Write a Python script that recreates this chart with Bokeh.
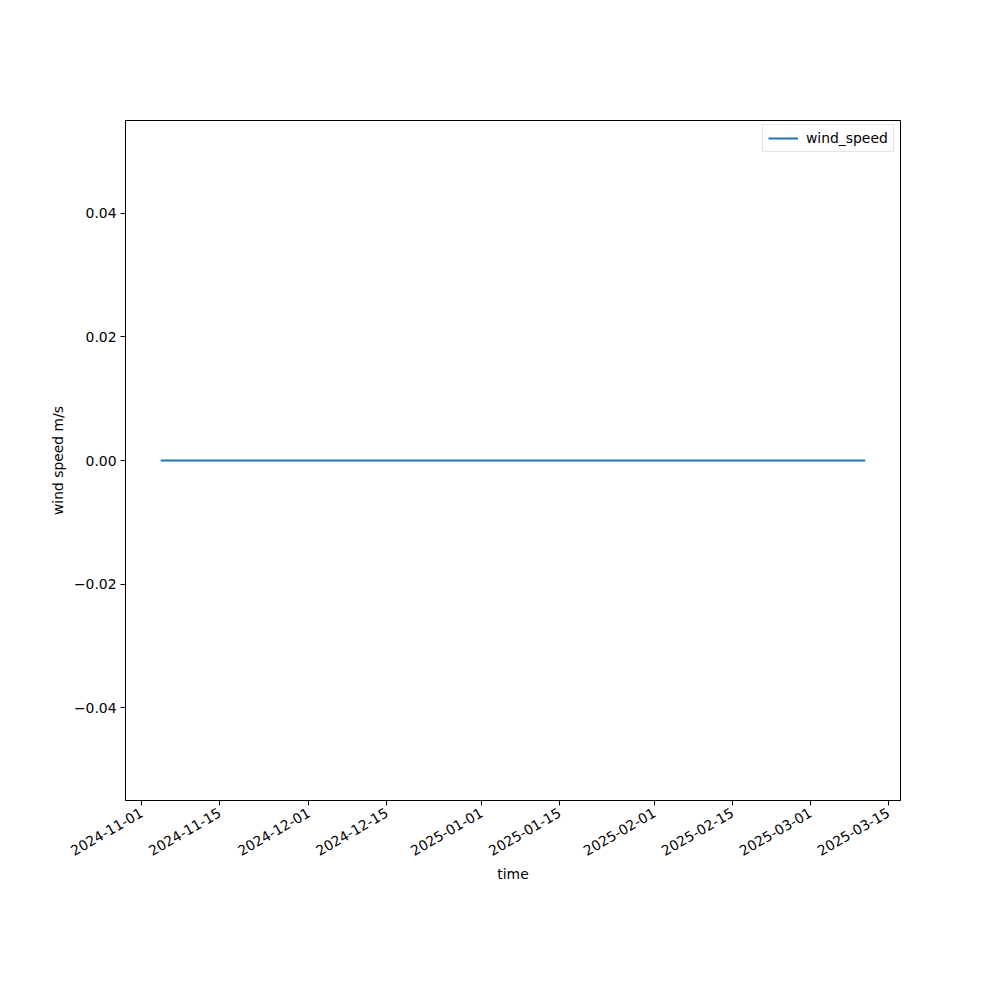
import datetime as dt
from bokeh.plotting import figure
from bokeh.models import Range1d, DataRange1d, FixedTicker, CustomJSTickFormatter, Legend, LegendItem, ColumnDataSource
from bokeh.embed import file_html
from bokeh.resources import INLINE
import math

# data
times = ["2024-11-04 10:00", "2024-12-01 00:00", "2025-01-01 00:00", "2025-02-01 00:00",
         "2025-03-01 00:00", "2025-03-10 20:00"]
wind_speed = [0.0, 0.0, 0.0, 0.0, 0.0, 0.0]
x_tick_labels = ["2024-11-01", "2024-11-15", "2024-12-01", "2024-12-15", "2025-01-01",
                 "2025-01-15", "2025-02-01", "2025-02-15", "2025-03-01", "2025-03-15"]
y_ticks = [-0.04, -0.02, 0.0, 0.02, 0.04]

FONT = "DejaVu Sans"
FS = "13.9px"

xs = [dt.datetime.strptime(t, "%Y-%m-%d %H:%M") for t in times]
src = ColumnDataSource(dict(x=xs, y=wind_speed))

p = figure(x_axis_type="datetime", output_backend="svg", toolbar_location=None,
           frame_width=775, frame_height=680,
           min_border_left=125, min_border_right=90, min_border_top=120, min_border_bottom=190,
           x_range=DataRange1d(range_padding=0.1), y_range=Range1d(-0.055, 0.055))

r = p.line("x", "y", source=src, line_color="#1f77b4", line_width=2)

epoch = dt.datetime(1970, 1, 1)
tick_ms = [(dt.datetime.strptime(s, "%Y-%m-%d") - epoch).total_seconds() * 1000 for s in x_tick_labels]
p.xaxis.ticker = FixedTicker(ticks=tick_ms)
p.xaxis.formatter = CustomJSTickFormatter(code="""
const d = new Date(tick);
const m = String(d.getUTCMonth()+1).padStart(2,'0');
const dd = String(d.getUTCDate()).padStart(2,'0');
return d.getUTCFullYear() + '-' + m + '-' + dd;
""")
p.xaxis.major_label_orientation = math.pi / 6

p.yaxis.ticker = FixedTicker(ticks=y_ticks)
p.yaxis.formatter = CustomJSTickFormatter(code="""
let s = Math.abs(tick) < 1e-12 ? '0.00' : tick.toFixed(2);
return s.replace('-', '\\u2212');
""")

for ax in [p.xaxis[0], p.yaxis[0]]:
    ax.major_tick_out = 5
    ax.major_tick_in = 0
    ax.minor_tick_out = 0
    ax.minor_tick_in = 0
    ax.axis_line_color = "black"
    ax.major_tick_line_color = "black"
    ax.major_label_text_font = FONT
    ax.major_label_text_font_size = FS
    ax.major_label_text_color = "black"
    ax.axis_label_text_font = FONT
    ax.axis_label_text_font_size = FS
    ax.axis_label_text_font_style = "normal"
    ax.axis_label_text_color = "black"
    ax.major_label_standoff = 4

p.xaxis.major_label_standoff = 6
p.xaxis.axis_label = "time"
p.yaxis.axis_label = "wind speed m/s"
p.xaxis.axis_label_standoff = 2
p.yaxis.axis_label_standoff = 5

p.xgrid.visible = False
p.ygrid.visible = False
p.outline_line_color = "black"
p.outline_line_width = 1
p.background_fill_color = "white"
p.border_fill_color = "white"

legend = Legend(items=[LegendItem(label="wind_speed", renderers=[r])], location=(637, 648))
legend.label_text_font = FONT
legend.label_text_font_size = FS
legend.label_text_color = "black"
legend.border_line_color = "#cccccc"
legend.border_line_width = 1
legend.margin = 0
legend.padding = 5
legend.glyph_width = 30
legend.glyph_height = 14
legend.label_standoff = 8
legend.label_height = 14
p.add_layout(legend)

open("out.html", "w").write(file_html(p, INLINE))
